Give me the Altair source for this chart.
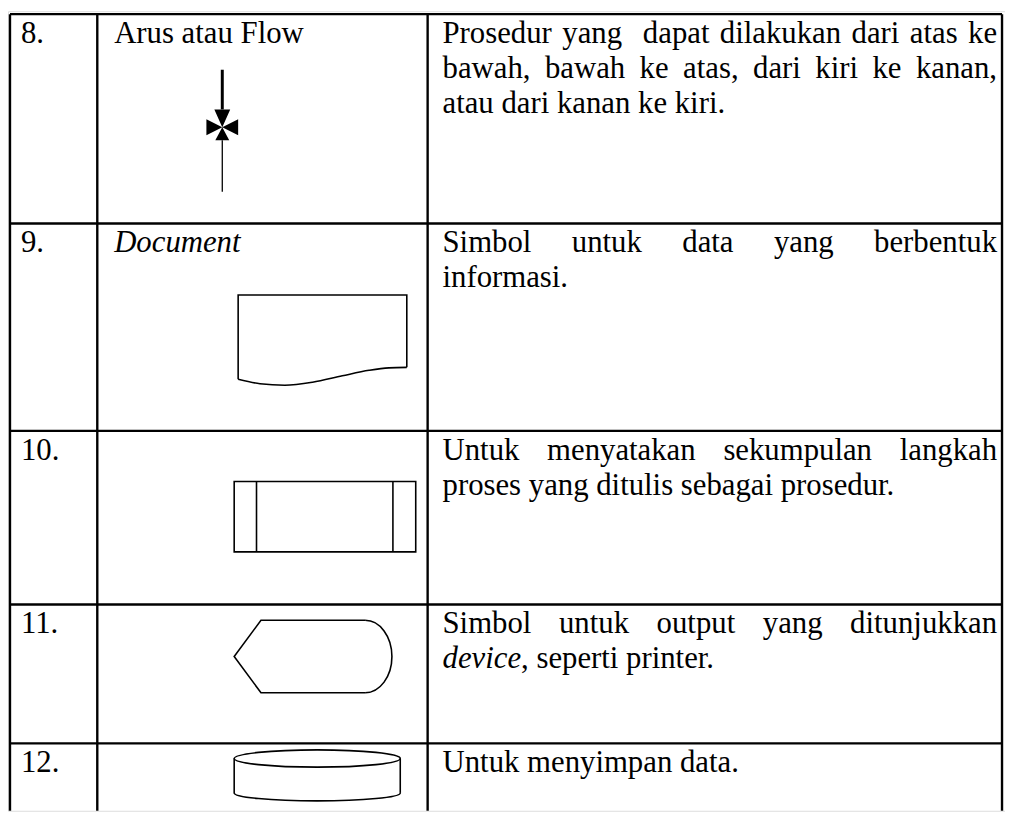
import altair as alt
import pandas as pd

FONT = "Liberation Serif"
FS = 31
INK = "#000000"

# ---------------- table grid ----------------
col_edges = [10, 98, 431, 1010]
row_edges = [11, 222, 431, 606, 746]
table_bottom = 814
BASE_OFF = 29      # first baseline below a row's top line
LINE_GAP = 35.5    # line spacing
num_x, name_x, desc_left, desc_right = 21, 115, 446, 1005

# ---------------- table content ----------------
row_numbers = ["8.", "9.", "10.", "11.", "12."]
symbol_names = ["Arus atau Flow", "*Document*", "", "", ""]
descriptions = [
    ["Prosedur yang  dapat dilakukan dari atas ke",
     "bawah, bawah ke atas, dari kiri ke kanan,",
     "atau dari kanan ke kiri."],
    ["Simbol untuk data yang berbentuk",
     "informasi."],
    ["Untuk menyatakan sekumpulan langkah",
     "proses yang ditulis sebagai prosedur."],
    ["Simbol untuk output yang ditunjukkan",
     "*device*, seperti printer."],
    ["Untuk menyimpan data."],
]

# ---------------- symbol geometry ----------------
flow_x, flow_cy = 224, 125
flow_top_line = [67, 107]
flow_bottom_line = [138, 190]

doc_outline_x = [240, 240, 410, 410]
doc_outline_y = [379, 294, 294, 367]
doc_wave_x = [240, 262, 287, 315, 345, 372, 392, 410]
doc_wave_y = [379, 383.5, 385, 382, 375.5, 370, 367.5, 367]

proc_box_x = [236, 419]
proc_box_y = [482, 553]
proc_inner_x = [258.5, 396]

disp_poly_x = [368, 263, 236, 263, 368]
disp_poly_y = [622, 622, 658.5, 695, 695]
disp_arc_c = [368, 658.5]
disp_arc_r = [27, 36.5]

cyl_side_x = [236, 403.4]
cyl_top_cy, cyl_bot_cy = 761.3, 796
cyl_rx, cyl_ry_top, cyl_ry_bot = 83.7, 8.7, 8

# ---------------- Times / Liberation Serif advance widths (per 1000 em) ----------------
W_ROMAN = {' ': 250, ',': 250, '.': 250, 'a': 444, 'b': 500, 'c': 444, 'd': 500, 'e': 444,
           'f': 333, 'g': 500, 'h': 500, 'i': 278, 'j': 278, 'k': 500, 'l': 278, 'm': 778,
           'n': 500, 'o': 500, 'p': 500, 'q': 500, 'r': 333, 's': 389, 't': 278, 'u': 500,
           'v': 500, 'w': 722, 'x': 500, 'y': 500, 'z': 444, 'A': 722, 'D': 722, 'F': 556,
           'P': 556, 'S': 556, 'U': 722}
W_ITALIC = {' ': 250, ',': 250, '.': 250, 'c': 444, 'd': 500, 'e': 444, 'i': 278, 'm': 722,
            'n': 500, 'o': 500, 't': 278, 'u': 500, 'v': 444, 'D': 722}


def text_width(s, italic=False):
    table = W_ITALIC if italic else W_ROMAN
    return sum(table.get(ch, 500) for ch in s) * FS / 1000.0


rows_roman, rows_italic = [], []


def add_segments(markup, x, y):
    for k, seg in enumerate(markup.split("*")):
        italic = (k % 2 == 1)
        if seg:
            (rows_italic if italic else rows_roman).append({"x": x, "y": y, "t": seg})
        x += text_width(seg, italic)


def add_justified(line, left, right, y):
    words = line.split(" ")
    n_sp = len(words) - 1
    total = sum(text_width(w) for w in words)
    sp = (right - left - total) / n_sp
    x = left
    for w in words:
        if w:
            rows_roman.append({"x": x, "y": y, "t": w})
        x += text_width(w) + sp


for r, top in enumerate(row_edges):
    base = top + BASE_OFF
    add_segments(row_numbers[r], num_x, base)
    add_segments(symbol_names[r], name_x, base)
    lines = descriptions[r]
    for j, line in enumerate(lines):
        y = base + j * LINE_GAP
        if j < len(lines) - 1:
            add_justified(line, desc_left, desc_right, y)
        else:
            add_segments(line, desc_left, y)

# ---------------- scales: one pixel of the page per unit ----------------
XS = alt.Scale(domain=[8, 1013], nice=False, zero=False)
YS = alt.Scale(domain=[8, 814], nice=False, zero=False, reverse=True)


def X(f="x"):
    return alt.X(f"{f}:Q", scale=XS, axis=None)


def Y(f="y"):
    return alt.Y(f"{f}:Q", scale=YS, axis=None)


# ---------------- grid lines ----------------
hgrid = pd.DataFrame({"y": row_edges, "x": col_edges[0], "x2": col_edges[-1]})
vgrid = pd.DataFrame({"x": col_edges, "y": row_edges[0], "y2": table_bottom})

h_layer = alt.Chart(hgrid).mark_rule(color=INK, strokeWidth=2.4).encode(
    x=X(), x2="x2:Q", y=Y())
v_layer = alt.Chart(vgrid).mark_rule(color=INK, strokeWidth=2.4).encode(
    x=X(), y=Y(), y2="y2:Q")

# ---------------- flow symbol ----------------
flow_lines = pd.DataFrame({
    "x": [flow_x, flow_x],
    "y": [flow_top_line[0], flow_bottom_line[0]],
    "y2": [flow_top_line[1], flow_bottom_line[1]],
    "w": [3.0, 1.3],
})
flow_line_layer = alt.Chart(flow_lines).mark_rule(color=INK).encode(
    x=X(), y=Y(), y2="y2:Q", strokeWidth=alt.StrokeWidth("w:Q", scale=None))

tri_path = ("M0,0L-8,-18L8,-18Z M0,0L-7,13L7,13Z "
            "M0,0L-16,-8L-16,8Z M0,0L16,-8L16,8Z")
flow_heads = pd.DataFrame({"x": [flow_x], "y": [flow_cy], "path": [tri_path]})
flow_head_layer = alt.Chart(flow_heads).mark_point(
    filled=True, color=INK, opacity=1, strokeWidth=0, size=4).encode(
    x=X(), y=Y(), shape=alt.Shape("path:N", scale=None))

# ---------------- document symbol ----------------
doc_outline = pd.DataFrame({"x": doc_outline_x, "y": doc_outline_y,
                            "i": list(range(len(doc_outline_x)))})
doc_wave = pd.DataFrame({"x": doc_wave_x, "y": doc_wave_y})
doc_layer = alt.Chart(doc_outline).mark_line(color=INK, strokeWidth=1.6).encode(
    x=X(), y=Y(), order="i:Q")
wave_layer = alt.Chart(doc_wave).mark_line(
    color=INK, strokeWidth=1.6, interpolate="monotone").encode(x=X(), y=Y())

# ---------------- predefined process ----------------
proc = pd.DataFrame({"x": [proc_box_x[0]], "x2": [proc_box_x[1]],
                     "y": [proc_box_y[0]], "y2": [proc_box_y[1]]})
proc_layer = alt.Chart(proc).mark_rect(fill="white", stroke=INK, strokeWidth=1.6).encode(
    x=X(), x2="x2:Q", y=Y(), y2="y2:Q")
proc_inner = pd.DataFrame({"x": proc_inner_x, "y": proc_box_y[0], "y2": proc_box_y[1]})
proc_inner_layer = alt.Chart(proc_inner).mark_rule(color=INK, strokeWidth=1.6).encode(
    x=X(), y=Y(), y2="y2:Q")

# ---------------- display symbol ----------------
K = 0.5523
disp_poly = pd.DataFrame({"x": disp_poly_x, "y": disp_poly_y,
                          "i": list(range(len(disp_poly_x)))})
disp_poly_layer = alt.Chart(disp_poly).mark_line(color=INK, strokeWidth=1.6).encode(
    x=X(), y=Y(), order="i:Q")

rx, ry = disp_arc_r
arc_right = (f"M0,{-ry} C{K*rx:.2f},{-ry} {rx},{-K*ry:.2f} {rx},0 "
             f"C{rx},{K*ry:.2f} {K*rx:.2f},{ry} 0,{ry}")
ry1, ry2 = cyl_ry_top, cyl_ry_bot
ell_full = (f"M{-cyl_rx},0 C{-cyl_rx},{-K*ry1:.2f} {-K*cyl_rx:.2f},{-ry1} 0,{-ry1} "
            f"C{K*cyl_rx:.2f},{-ry1} {cyl_rx},{-K*ry1:.2f} {cyl_rx},0 "
            f"C{cyl_rx},{K*ry1:.2f} {K*cyl_rx:.2f},{ry1} 0,{ry1} "
            f"C{-K*cyl_rx:.2f},{ry1} {-cyl_rx},{K*ry1:.2f} {-cyl_rx},0 Z")
ell_bottom = (f"M{-cyl_rx},0 C{-cyl_rx},{K*ry2:.2f} {-K*cyl_rx:.2f},{ry2} 0,{ry2} "
              f"C{K*cyl_rx:.2f},{ry2} {cyl_rx},{K*ry2:.2f} {cyl_rx},0")
cyl_cx = (cyl_side_x[0] + cyl_side_x[1]) / 2

curves = pd.DataFrame({
    "x": [disp_arc_c[0], cyl_cx, cyl_cx],
    "y": [disp_arc_c[1], cyl_top_cy, cyl_bot_cy],
    "path": [arc_right, ell_full, ell_bottom],
})
curve_layer = alt.Chart(curves).mark_point(
    filled=False, stroke=INK, strokeWidth=1.6, opacity=1, size=4).encode(
    x=X(), y=Y(), shape=alt.Shape("path:N", scale=None))

# ---------------- storage symbol sides ----------------
cyl_sides = pd.DataFrame({"x": cyl_side_x, "y": cyl_top_cy, "y2": cyl_bot_cy})
cyl_layer = alt.Chart(cyl_sides).mark_rule(color=INK, strokeWidth=1.6).encode(
    x=X(), y=Y(), y2="y2:Q")

# ---------------- text ----------------
txt_roman = alt.Chart(pd.DataFrame(rows_roman)).mark_text(
    font=FONT, fontSize=FS, align="left", baseline="alphabetic", color=INK).encode(
    x=X(), y=Y(), text="t:N")
txt_italic = alt.Chart(pd.DataFrame(rows_italic)).mark_text(
    font=FONT, fontSize=FS, fontStyle="italic", align="left", baseline="alphabetic",
    color=INK).encode(x=X(), y=Y(), text="t:N")

chart = alt.layer(
    h_layer, v_layer,
    flow_line_layer, flow_head_layer,
    doc_layer, wave_layer,
    proc_layer, proc_inner_layer,
    disp_poly_layer, cyl_layer, curve_layer,
    txt_roman, txt_italic,
).properties(
    width=1005, height=806, padding=0,
    autosize=alt.AutoSizeParams(type="none"),
).configure_view(stroke=None).configure(background="white")

chart.save("out.html", embed_options={"renderer": "svg", "actions": False})
